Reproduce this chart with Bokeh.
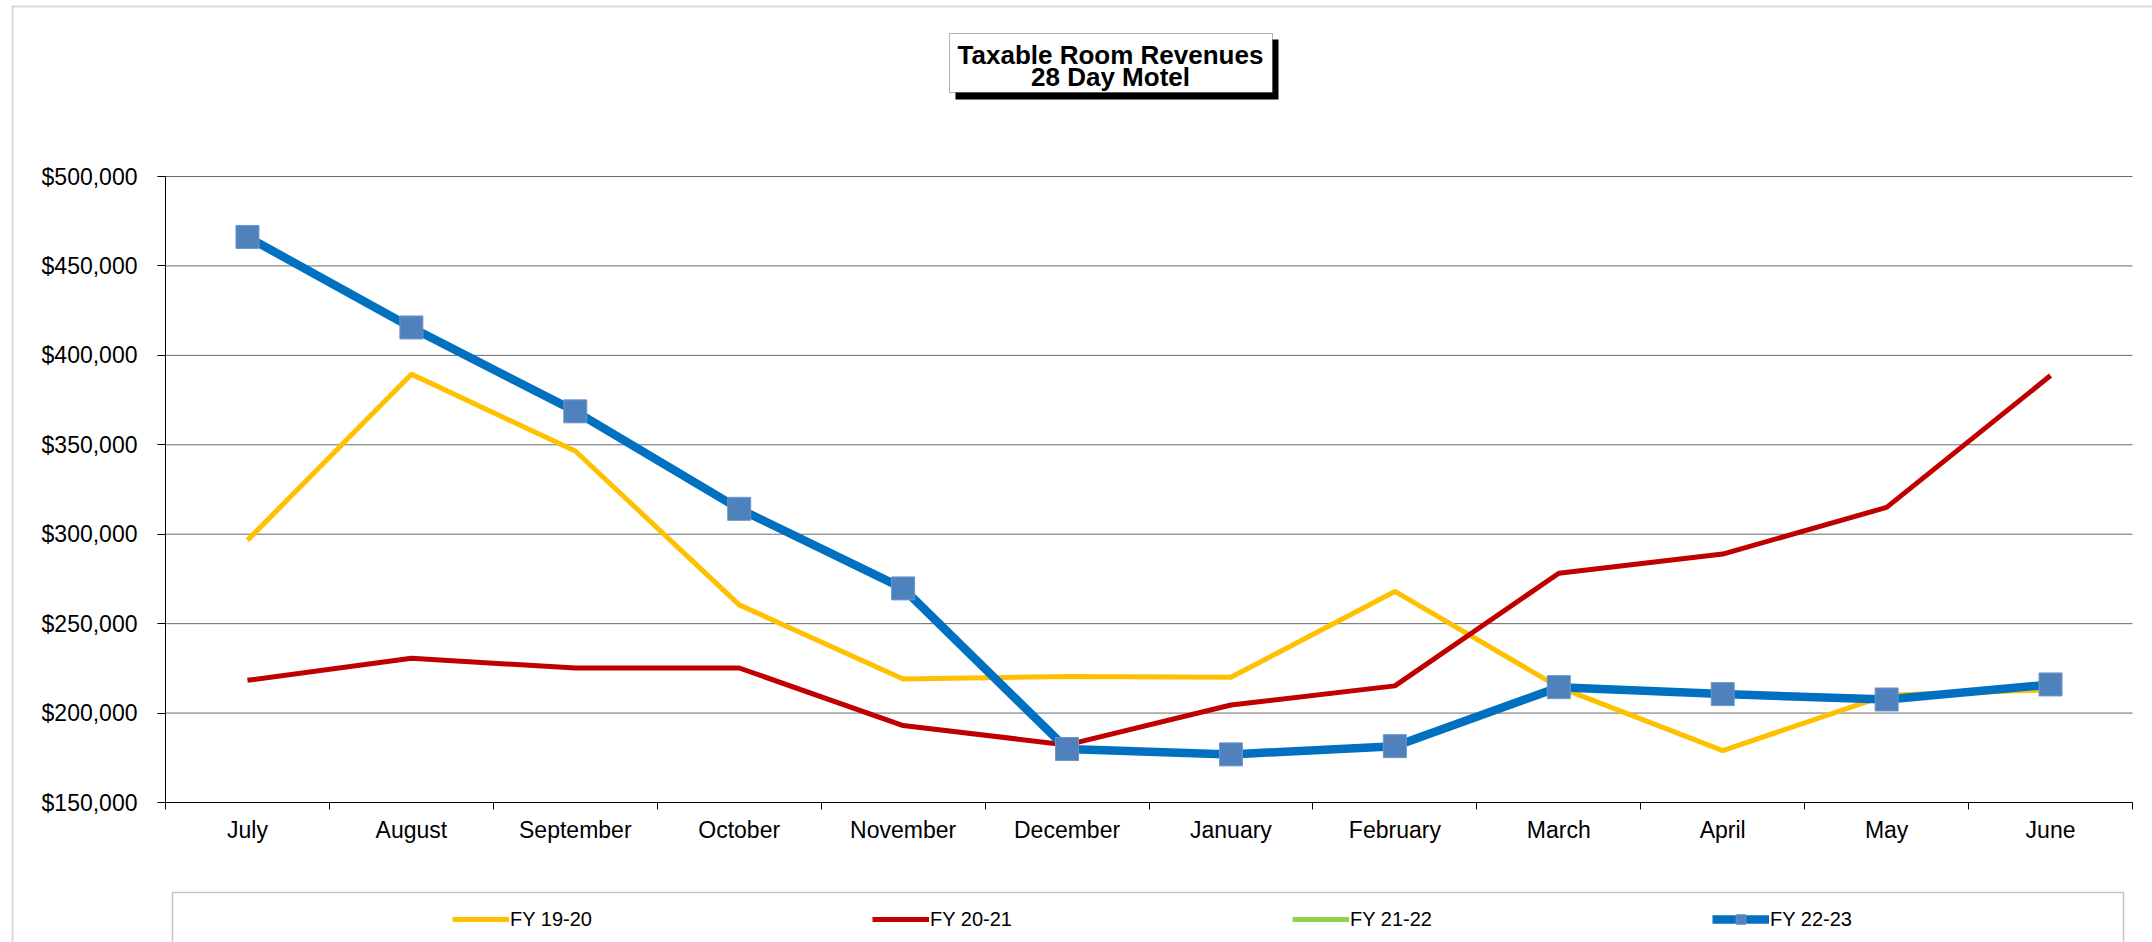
import numpy as np
from bokeh.plotting import figure
from bokeh.models import (Range1d, FixedTicker, NumeralTickFormatter, Legend, LegendItem,
                          BoxAnnotation, Label)
from bokeh.embed import file_html
from bokeh.resources import INLINE

# ---------------- data ----------------
months = ["July", "August", "September", "October", "November", "December",
          "January", "February", "March", "April", "May", "June"]
fy_19_20 = [296600, 389500, 346500, 260500, 219000, 220500,
            220000, 268000, 214500, 179000, 210000, 213000]
fy_20_21 = [218300, 230600, 225200, 225200, 193000, 182200,
            204500, 215200, 278200, 288900, 315000, 388700]
fy_21_22 = [np.nan, np.nan, np.nan, np.nan, np.nan, np.nan,
            np.nan, np.nan, np.nan, np.nan, np.nan, np.nan]
fy_22_23 = [466200, 415600, 368700, 314200, 269700, 179900,
            176900, 181500, 214500, 210600, 207600, 216000]
series_names = ["FY 19-20", "FY 20-21", "FY 21-22", "FY 22-23"]
y_ticks = [150000, 200000, 250000, 300000, 350000, 400000, 450000, 500000]
title_lines = ["Taxable Room Revenues", "28 Day Motel"]

# ---------------- layout (page pixels of the plot area) ----------------
W, H = 2152, 942
FL, FR, FT, FB = 165, 2132, 176, 802
YMIN, YMAX = y_ticks[0], y_ticks[-1]
NCAT = len(months)


def dx(px):
    return (px - FL) / (FR - FL) * NCAT


def dy(py):
    return YMAX + (FT - py) / (FB - FT) * (YMAX - YMIN)


FONT = "Liberation Sans"

p = figure(width=W, height=H, x_range=Range1d(dx(0), dx(W)), y_range=Range1d(dy(H), dy(0)),
           output_backend="svg", toolbar_location=None,
           min_border_left=0, min_border_right=0, min_border_top=0, min_border_bottom=0)
p.outline_line_color = None
p.background_fill_color = "white"
p.border_fill_color = "white"
p.xgrid.visible = False
p.ygrid.visible = False

xs = [i + 0.5 for i in range(NCAT)]

# outer chart border
p.add_layout(BoxAnnotation(left=dx(12), right=dx(2400), top=dy(6), bottom=dy(1400),
                           fill_color=None, fill_alpha=0, line_color="#7f7f7f",
                           line_width=2, line_dash="solid", level="underlay"))

# horizontal gridlines at the y ticks
p.segment(x0=[0] * len(y_ticks), x1=[NCAT] * len(y_ticks), y0=y_ticks, y1=y_ticks,
          line_color="#6a6a6a", line_width=1, level="underlay")

# x axis
xa = p.xaxis[0]
xa.fixed_location = YMIN
xa.bounds = (0, NCAT)
xa.ticker = FixedTicker(ticks=xs, minor_ticks=list(range(NCAT + 1)))
xa.major_label_overrides = {x: m for x, m in zip(xs, months)}
xa.major_tick_out = 0
xa.major_tick_in = 0
xa.minor_tick_out = 7
xa.minor_tick_in = 0
xa.minor_tick_line_color = "black"
xa.axis_line_color = "black"
xa.major_label_text_font = FONT
xa.major_label_text_font_size = "23px"
xa.major_label_text_color = "black"
xa.major_label_standoff = 7

# y axis
ya = p.yaxis[0]
ya.fixed_location = 0
ya.bounds = (YMIN, YMAX)
ya.ticker = FixedTicker(ticks=y_ticks)
ya.formatter = NumeralTickFormatter(format="$0,0")
ya.major_tick_out = 8
ya.major_tick_in = 0
ya.minor_tick_out = 0
ya.minor_tick_in = 0
ya.major_tick_line_color = "black"
ya.axis_line_color = "black"
ya.major_label_text_font = FONT
ya.major_label_text_font_size = "23px"
ya.major_label_text_color = "black"
ya.major_label_standoff = 20

# series
r1 = p.line(xs, fy_19_20, line_color="#FFC000", line_width=5)
r2 = p.line(xs, fy_20_21, line_color="#C00000", line_width=5)
r3 = p.line(xs, fy_21_22, line_color="#92D050", line_width=5)
r4 = p.line(xs, fy_22_23, line_color="#0070C0", line_width=8.5)
r4m = p.scatter(xs, fy_22_23, marker="square", size=23, fill_color="#4F81BD",
                line_color="#6F96C8", line_width=1)

# title box with shadow
p.add_layout(BoxAnnotation(left=dx(955), right=dx(1278), top=dy(39), bottom=dy(99),
                           fill_color="black", fill_alpha=1, line_color=None))
p.add_layout(BoxAnnotation(left=dx(949), right=dx(1272), top=dy(33), bottom=dy(92),
                           fill_color="white", fill_alpha=1, line_color="black",
                           line_width=1, line_dash="solid"))
for txt, mid in zip(title_lines, [54.0, 76.5]):
    p.add_layout(Label(x=dx(1110), y=dy(mid), text=txt, text_align="center",
                       text_baseline="middle", text_font=FONT, text_font_style="bold",
                       text_font_size="26px", text_color="black"))

# legend box
p.add_layout(BoxAnnotation(left=dx(172), right=dx(2123), top=dy(892), bottom=dy(1400),
                           fill_color=None, fill_alpha=0, line_color="#404040",
                           line_width=1.5, line_dash="solid"))

items = [LegendItem(label=series_names[0], renderers=[r1]),
         LegendItem(label=series_names[1], renderers=[r2]),
         LegendItem(label=series_names[2], renderers=[r3]),
         LegendItem(label=series_names[3], renderers=[r4, r4m])]
legend = Legend(items=items, orientation="horizontal", location=(452, H - 907 - 24),
                padding=0, margin=0, spacing=0, glyph_width=57, glyph_height=24,
                label_height=24, label_width=362, label_standoff=1,
                label_text_font=FONT, label_text_font_size="20px", label_text_color="black",
                border_line_color=None, background_fill_alpha=0)
p.add_layout(legend, "center")

open("out.html", "w").write(file_html(p, INLINE))
